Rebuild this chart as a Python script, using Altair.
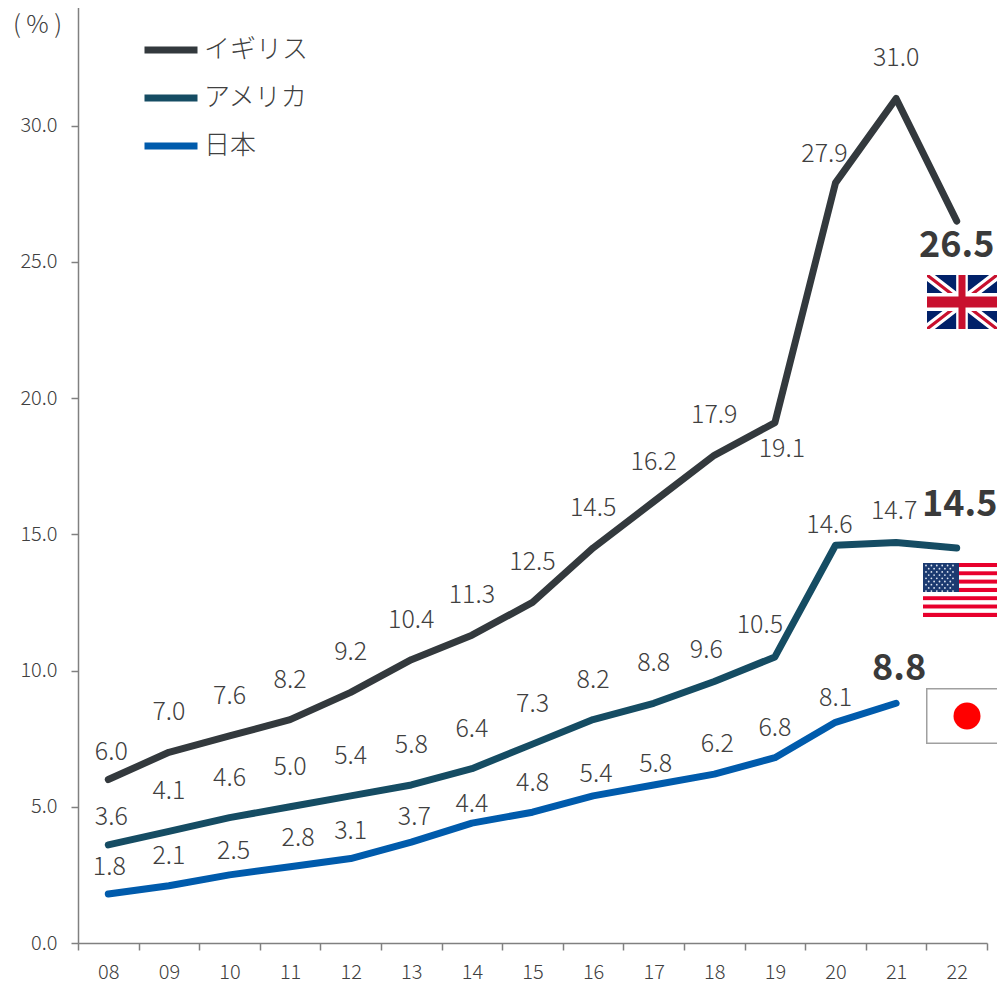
import base64
import altair as alt
import pandas as pd

years = ["08","09","10","11","12","13","14","15","16","17","18","19","20","21","22"]
uk = [6.0,7.0,7.6,8.2,9.2,10.4,11.3,12.5,14.5,16.2,17.9,19.1,27.9,31.0,26.5]
us = [3.6,4.1,4.6,5.0,5.4,5.8,6.4,7.3,8.2,8.8,9.6,10.5,14.6,14.7,14.5]
jp = [1.8,2.1,2.5,2.8,3.1,3.7,4.4,4.8,5.4,5.8,6.2,6.8,8.1,8.8]
series_names = ["イギリス","アメリカ","日本"]
series_colors = ["#33393d","#154c63","#005bac"]

# label nudges in pixels (dx, dy from the point)
uk_off = [(3,-28)]+[(0,-40)]*10+[(7,26),(-11,-29),(0,-40),(0,25)]
us_off = [(3,-28)]+[(0,-40)]*9+[(-8,-31),(-15,-32),(-6,-20),(-2,-32),(3,-43)]
jp_off = [(1,-27),(0,-30),(4,-24),(8,-29),(0,-28),(3,-25),(0,-19),(0,-29),(3,-22),(2,-21),(3,-30),(0,-30),(0,-24),(3,-34)]

FONT = "Noto Sans CJK JP"
TXT = "#404040"
GREY = "#808080"

rows = []
for name, vals in zip(series_names, [uk, us, jp]):
    for y, v in zip(years, vals):
        rows.append({"year": y, "value": v, "series": name})
df = pd.DataFrame(rows)

x = alt.X("year:N", sort=years, title=None,
          scale=alt.Scale(type="band", domain=years, paddingInner=0, paddingOuter=0),
          axis=alt.Axis(labelAngle=0, tickBand="extent", tickSize=7, labelPadding=12,
                        labelFont=FONT, labelFontWeight=300, labelFontSize=20, labelColor=TXT,
                        domainColor=GREY, tickColor=GREY, domainWidth=1.5, tickWidth=1.5, grid=False))
y = alt.Y("value:Q", title="( % )",
          scale=alt.Scale(domain=[0, 34.43], nice=False, zero=True),
          axis=alt.Axis(values=[0,5,10,15,20,25,30], format=".1f", tickSize=7, labelPadding=14,
                        labelFont=FONT, labelFontWeight=300, labelFontSize=20, labelColor=TXT,
                        domainColor=GREY, tickColor=GREY, domainWidth=1.5, tickWidth=1.5, grid=False,
                        titleAngle=0, titleX=-41, titleY=19, titleFont=FONT, titleFontWeight=300,
                        titleFontSize=25, titleColor=TXT, titleAlign="center", titleBaseline="middle"))

lines = alt.Chart(df).mark_line(strokeWidth=7, strokeCap="round", strokeJoin="round").encode(
    x=x, y=y,
    color=alt.Color("series:N", sort=series_names,
                    scale=alt.Scale(domain=series_names, range=series_colors),
                    legend=alt.Legend(orient="none", legendX=63, legendY=15, title=None, padding=0,
                                      symbolType="stroke", symbolSize=2809, symbolStrokeWidth=7,
                                      labelFont=FONT, labelFontWeight=300, labelFontSize=26,
                                      labelColor=TXT, labelOffset=3, rowPadding=4)),
    order=alt.Order("year:N"))

layers = [lines]
for name, vals, offs in zip(series_names, [uk, us, jp], [uk_off, us_off, jp_off]):
    for i, (yr, v, (dx, dy)) in enumerate(zip(years, vals, offs)):
        last = i == len(vals) - 1
        t = alt.Chart(pd.DataFrame({"year": [yr], "value": [v]})).mark_text(
            dx=dx, dy=dy, font=FONT, fontSize=36 if last else 25,
            fontWeight="bold" if last else 300, color="#3a3a3a" if last else TXT,
            baseline="middle", align="center").encode(
            x=alt.X("year:N", sort=years), y=alt.Y("value:Q"),
            text=alt.Text("value:Q", format=".1f"))
        layers.append(t)

def svg_uri(s):
    return "data:image/svg+xml;base64," + base64.b64encode(s.encode()).decode()

uk_flag = """<svg xmlns="http://www.w3.org/2000/svg" width="70" height="54" viewBox="0 0 60 30" preserveAspectRatio="none">
<rect width="60" height="30" fill="#012169"/>
<path d="M0,0 L60,30 M60,0 L0,30" stroke="#fff" stroke-width="6"/>
<path d="M0,0 L60,30 M60,0 L0,30" stroke="#c8102e" stroke-width="2"/>
<path d="M30,0 V30 M0,15 H60" stroke="#fff" stroke-width="10"/>
<path d="M30,0 V30 M0,15 H60" stroke="#c8102e" stroke-width="6"/></svg>"""

stripes = "".join(f'<rect y="{i*54/13:.2f}" width="74" height="{54/13:.2f}" fill="{"#e8002d" if i%2==0 else "#fff"}"/>' for i in range(13))
stars = "".join(f'<circle cx="{3+j*5.4+(2.7 if i%2 else 0):.1f}" cy="{2.5+i*3.2:.1f}" r="0.9" fill="#dfe6f2"/>'
                for i in range(9) for j in range(6 if i%2==0 else 5))
us_flag = f"""<svg xmlns="http://www.w3.org/2000/svg" width="74" height="54">{stripes}
<rect width="36" height="29" fill="#1b3a70"/>{stars}</svg>"""

jp_flag = """<svg xmlns="http://www.w3.org/2000/svg" width="72" height="56">
<rect x="0.75" y="0.75" width="82" height="54.5" fill="#fff" stroke="#a0a0a0" stroke-width="1.5"/>
<circle cx="41" cy="28" r="13.5" fill="#ff0000"/></svg>"""

# flags: decorations placed in pixels relative to the plot origin
for uri, fx, fy, w, h in [(uk_flag, 849, 270, 70, 54), (us_flag, 845, 558, 74, 54), (jp_flag, 848, 683, 72, 56)]:
    img = alt.Chart(pd.DataFrame({"a": [0]})).mark_image(width=w, height=h, align="left", baseline="top").encode(
        x=alt.value(fx), y=alt.value(fy), url=alt.value(svg_uri(uri)))
    layers.append(img)

chart = alt.layer(*layers).properties(
    width=909, height=938,
    autosize=alt.AutoSizeParams(type="none"),
    padding={"left": 70, "top": -3, "right": 10, "bottom": 40},
).configure_view(stroke=None)

chart.save("out.html", embed_options={"renderer": "svg", "actions": False})
